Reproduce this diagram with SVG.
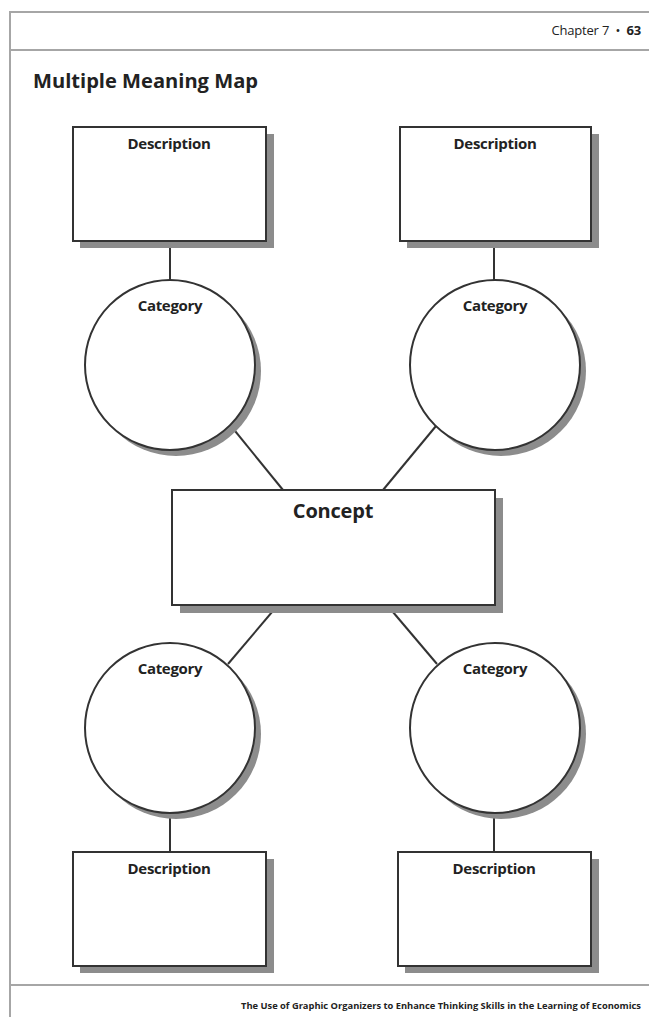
<svg xmlns="http://www.w3.org/2000/svg" width="649" height="1017" viewBox="0 0 649 1017">
  <style>
    .rule { stroke: #a6a6a6; stroke-width: 2; fill: none; }
    .box { fill: #ffffff; stroke: #333333; stroke-width: 2; }
    .shadow { fill: #8c8c8c; stroke: none; }
    .link { stroke: #333333; stroke-width: 2; fill: none; }
    .label { font-family: "Open Sans", "Liberation Sans", sans-serif; font-weight: bold; fill: #222222; text-anchor: middle; }
    .small { font-size: 15px; letter-spacing: -0.3px; }
    .big { font-size: 20px; letter-spacing: -0.2px; }
  </style>
  <rect width="649" height="1017" fill="#ffffff"/>

  <!-- page frame -->
  <g id="page-frame">
    <path class="rule" d="M10 1017 V12 H649"/>
    <line class="rule" x1="10" y1="50" x2="649" y2="50"/>
    <line class="rule" x1="10" y1="985" x2="649" y2="985"/>
  </g>

  <g id="header">
    <text x="641" y="35" font-family="Open Sans, Liberation Sans, sans-serif" font-size="13" fill="#222" text-anchor="end" letter-spacing="-0.2" xml:space="preserve">Chapter 7  •  <tspan font-weight="bold">63</tspan></text>
    <text x="33" y="88" font-family="Open Sans, Liberation Sans, sans-serif" font-size="19" font-weight="bold" fill="#222" textLength="225" lengthAdjust="spacingAndGlyphs">Multiple Meaning Map</text>
  </g>

  <!-- connectors -->
  <g id="connectors">
    <line class="link" x1="170" y1="242" x2="170" y2="280"/>
    <line class="link" x1="494" y1="242" x2="494" y2="280"/>
    <line class="link" x1="231" y1="426" x2="283" y2="490"/>
    <line class="link" x1="436" y1="426" x2="383" y2="490"/>
    <line class="link" x1="278" y1="605" x2="228" y2="664"/>
    <line class="link" x1="387" y1="605" x2="437" y2="664"/>
    <line class="link" x1="170" y1="813" x2="170" y2="852"/>
    <line class="link" x1="494" y1="813" x2="494" y2="852"/>
  </g>

  <!-- description boxes -->
  <g id="desc-top-left">
    <rect class="shadow" x="80" y="134" width="194" height="114"/>
    <rect class="box" x="73" y="127" width="193" height="114"/>
    <text class="label small" x="169" y="149">Description</text>
  </g>
  <g id="desc-top-right">
    <rect class="shadow" x="407" y="134" width="192" height="114"/>
    <rect class="box" x="400" y="127" width="191" height="114"/>
    <text class="label small" x="495" y="149">Description</text>
  </g>

  <!-- category circles -->
  <g id="cat-top-left">
    <circle class="shadow" cx="176" cy="371" r="85"/>
    <circle class="box" cx="170" cy="365" r="85"/>
    <text class="label small" x="170" y="311">Category</text>
  </g>
  <g id="cat-top-right">
    <circle class="shadow" cx="501" cy="371" r="85"/>
    <circle class="box" cx="495" cy="365" r="85"/>
    <text class="label small" x="495" y="311">Category</text>
  </g>

  <!-- central concept -->
  <g id="concept">
    <rect class="shadow" x="180" y="498" width="323" height="115"/>
    <rect class="box" x="172" y="490" width="323" height="115"/>
    <text class="label big" x="333" y="518">Concept</text>
  </g>

  <g id="cat-bottom-left">
    <circle class="shadow" cx="176" cy="734" r="85"/>
    <circle class="box" cx="170" cy="728" r="85"/>
    <text class="label small" x="170" y="674">Category</text>
  </g>
  <g id="cat-bottom-right">
    <circle class="shadow" cx="501" cy="734" r="85"/>
    <circle class="box" cx="495" cy="728" r="85"/>
    <text class="label small" x="495" y="674">Category</text>
  </g>

  <g id="desc-bottom-left">
    <rect class="shadow" x="80" y="859" width="194" height="114"/>
    <rect class="box" x="73" y="852" width="193" height="114"/>
    <text class="label small" x="169" y="874">Description</text>
  </g>
  <g id="desc-bottom-right">
    <rect class="shadow" x="405" y="859" width="194" height="114"/>
    <rect class="box" x="398" y="852" width="193" height="114"/>
    <text class="label small" x="494" y="874">Description</text>
  </g>

  <g id="footer">
    <text x="641" y="1009" font-family="Open Sans, Liberation Sans, sans-serif" font-size="8.5" font-weight="bold" fill="#222" text-anchor="end" textLength="400" lengthAdjust="spacingAndGlyphs">The Use of Graphic Organizers to Enhance Thinking Skills in the Learning of Economics</text>
  </g>
</svg>
